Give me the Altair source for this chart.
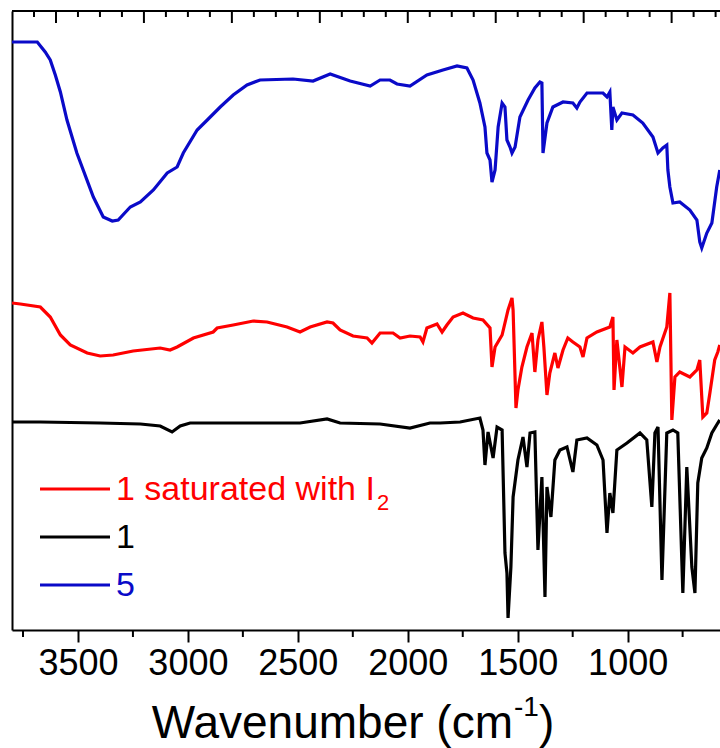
import altair as alt
import pandas as pd

# ---------------- data ----------------
# transmittance in arbitrary units (offset traces)
blue_w = [3800, 3717, 3685, 3649, 3626, 3603, 3580, 3550, 3505, 3430, 3385, 3344, 3317, 3262, 3216, 3157,
          3094, 3049, 3021, 2958, 2912, 2853, 2794, 2731, 2672, 2522, 2431, 2353, 2262, 2171, 2126, 2081,
          2049, 1990, 1913, 1840, 1776, 1731, 1703, 1672, 1649, 1640, 1626, 1617, 1603, 1589, 1571, 1558,
          1549, 1535, 1526, 1512, 1490, 1453, 1422, 1399, 1390, 1385, 1367, 1340, 1294, 1249, 1231, 1217,
          1185, 1112, 1094, 1081, 1072, 1067, 1049, 1026, 976, 931, 885, 862, 840, 822, 817, 808, 794,
          763, 717, 685, 672, 663, 640, 617, 595, 581]
blue_v = [588, 588, 588, 578, 570, 555, 538, 510, 477, 433, 413, 409, 410, 423, 428, 440,
          457, 463, 477, 500, 510, 523, 535, 545, 550, 551, 549, 556, 549, 544, 550, 550,
          546, 544, 555, 560, 564, 562, 550, 527, 503, 477, 470, 448, 460, 503, 527, 523,
          490, 483, 477, 483, 513, 530, 542, 548, 547, 477, 507, 523, 528, 527, 522, 528,
          537, 537, 533, 538, 500, 523, 510, 517, 515, 507, 493, 477, 482, 485, 460, 443, 427,
          428, 420, 410, 388, 382, 397, 407, 443, 460]

red_w = [3800, 3762, 3671, 3626, 3580, 3535, 3458, 3399, 3340, 3249, 3126, 3081, 3049, 2975, 2885, 2867,
         2794, 2703, 2640, 2549, 2490, 2444, 2367, 2340, 2308, 2249, 2185, 2163, 2126, 2067, 2035, 1990,
         1944, 1931, 1913, 1867, 1844, 1822, 1794, 1749, 1703, 1658, 1626, 1617, 1603, 1571, 1544, 1526,
         1521, 1508, 1499, 1481, 1458, 1435, 1422, 1408, 1390, 1381, 1367, 1354, 1331, 1317, 1294, 1272,
         1249, 1217, 1203, 1185, 1140, 1081, 1067, 1062, 1049, 1026, 1012, 976, 944, 885, 867, 853,
         822, 808, 799, 785, 763, 717, 685, 672, 658, 640, 626, 604, 590, 581]
red_v = [327, 326, 323, 313, 295, 285, 277, 274, 275, 279, 282, 280, 283, 292, 298, 302,
         305, 309, 308, 303, 298, 303, 308, 307, 300, 294, 292, 287, 297, 297, 292, 294,
         293, 288, 302, 306, 298, 305, 313, 317, 312, 310, 302, 263, 283, 295, 320, 332,
         320, 222, 240, 263, 283, 297, 258, 290, 308, 283, 235, 257, 277, 262, 280, 292,
         288, 283, 273, 292, 298, 303, 313, 240, 290, 243, 283, 277, 283, 288, 268, 283,
         303, 337, 210, 253, 258, 253, 260, 270, 213, 217, 237, 270, 278, 285]

black_w = [3800, 3671, 3399, 3216, 3126, 3072, 3035, 2990, 2717, 2490, 2367, 2308, 2126, 1990, 1899, 1853,
           1762, 1672, 1658, 1649, 1635, 1612, 1594, 1571, 1558, 1549, 1544, 1531, 1521, 1499, 1476, 1458,
           1444, 1422, 1408, 1390, 1376, 1367, 1349, 1331, 1308, 1276, 1249, 1231, 1185, 1140, 1112, 1094,
           1081, 1067, 1049, 1003, 944, 913, 890, 876, 862, 844, 822, 794, 772, 749, 731, 708, 694, 681,
           663, 640, 617, 590, 581]
black_v = [208, 208, 207, 206, 204, 198, 204, 207, 207, 207, 211, 207, 206, 202, 207, 207,
           208, 212, 200, 165, 198, 172, 203, 200, 77, 57, 12, 63, 133, 170, 193, 163,
           197, 198, 80, 153, 33, 143, 113, 170, 180, 183, 158, 190, 192, 185, 170, 97,
           137, 117, 180, 187, 197, 190, 123, 197, 203, 50, 197, 200, 197, 37, 163, 63, 37, 147,
           172, 182, 197, 207, 210]

series_names = ["1 saturated with I2", "1", "5"]
series_colors = ["#ff0000", "#000000", "#0a0ac8"]

bottom_major = [3500, 3000, 2500, 2000, 1500, 1000]
bottom_minor = [3750, 3250, 2750, 2250, 1750, 1250, 750]
top_major = [3600, 3200, 2800, 2400, 2000, 1600, 1200, 800]
top_minor = [3700, 3500, 3400, 3300, 3100, 3000, 2900, 2700, 2600, 2500, 2300, 2200, 2100,
             1900, 1800, 1700, 1500, 1400, 1300, 1100, 1000, 900, 700, 600]

x_domain = [3800, 580]
y_domain = [0, 619]

# ---------------- build ----------------
W, H = 708, 619
FONT = "Liberation Sans"

df = pd.concat([
    pd.DataFrame({"w": blue_w, "v": blue_v, "s": "5"}),
    pd.DataFrame({"w": red_w, "v": red_v, "s": "1 saturated with I2"}),
    pd.DataFrame({"w": black_w, "v": black_v, "s": "1"}),
])

xscale = alt.Scale(domain=x_domain, nice=False, zero=False)
yscale = alt.Scale(domain=y_domain, nice=False, zero=False)

lines = alt.Chart(df).mark_line(strokeWidth=3.2, clip=True).encode(
    x=alt.X("w:Q", scale=xscale,
            axis=alt.Axis(values=bottom_major, title=None, tickSize=12, tickWidth=2,
                          domainWidth=2, domainColor="black", tickColor="black",
                          labelFont=FONT, labelFontSize=36, labelColor="black",
                          labelPadding=4, grid=False, labelFlush=False, format="d")),
    y=alt.Y("v:Q", scale=yscale,
            axis=alt.Axis(title=None, ticks=False, labels=False, grid=False,
                          domainWidth=2, domainColor="black")),
    color=alt.Color("s:N", scale=alt.Scale(domain=series_names, range=series_colors), legend=None),
    detail="s:N",
)

bmin = alt.Chart(pd.DataFrame({"w": bottom_minor})).mark_rule(strokeWidth=2, color="black").encode(
    x=alt.X("w:Q", scale=xscale), y=alt.value(H), y2=alt.value(H + 7))
tmaj = alt.Chart(pd.DataFrame({"w": top_major})).mark_rule(strokeWidth=2, color="black").encode(
    x=alt.X("w:Q", scale=xscale), y=alt.value(0), y2=alt.value(12))
tmin = alt.Chart(pd.DataFrame({"w": top_minor})).mark_rule(strokeWidth=2, color="black").encode(
    x=alt.X("w:Q", scale=xscale), y=alt.value(0), y2=alt.value(6))

one = pd.DataFrame({"a": [0]})
topline = alt.Chart(one).mark_rule(strokeWidth=2, color="black").encode(
    x=alt.value(0), x2=alt.value(W + 5), y=alt.value(0))

layers = [lines, bmin, tmaj, tmin, topline]

# legend (manual, coloured text)
leg_y = [478, 526, 574]
for name, col, ly in zip(series_names, series_colors, leg_y):
    layers.append(alt.Chart(one).mark_rule(strokeWidth=3, color=col).encode(
        x=alt.value(28), x2=alt.value(98), y=alt.value(ly)))
    label = "1 saturated with I" if name.endswith("I2") else name
    layers.append(alt.Chart(one).mark_text(font=FONT, fontSize=34, color=col, align="left",
                                           baseline="middle").encode(
        x=alt.value(104), y=alt.value(ly + 1), text=alt.value(label)))
layers.append(alt.Chart(one).mark_text(font=FONT, fontSize=22, color=series_colors[0], align="left",
                                       baseline="middle").encode(
    x=alt.value(365), y=alt.value(leg_y[0] + 14), text=alt.value("2")))

# axis title with superscript
layers.append(alt.Chart(one).mark_text(font=FONT, fontSize=46, color="black", align="right",
                                       baseline="alphabetic").encode(
    x=alt.value(501), y=alt.value(727), text=alt.value("Wavenumber (cm")))
layers.append(alt.Chart(one).mark_text(font=FONT, fontSize=28, color="black", align="left",
                                       baseline="alphabetic").encode(
    x=alt.value(502), y=alt.value(705), text=alt.value("-1")))
layers.append(alt.Chart(one).mark_text(font=FONT, fontSize=46, color="black", align="left",
                                       baseline="alphabetic").encode(
    x=alt.value(527), y=alt.value(727), text=alt.value(")")))

chart = alt.layer(*layers).properties(
    width=W, height=H,
    autosize=alt.AutoSizeParams(type="none"),
    padding={"left": 12, "top": 11, "right": 0, "bottom": 118},
    background="white",
).configure_view(stroke=None)

chart.save("out.html", embed_options={"renderer": "svg", "actions": False})
